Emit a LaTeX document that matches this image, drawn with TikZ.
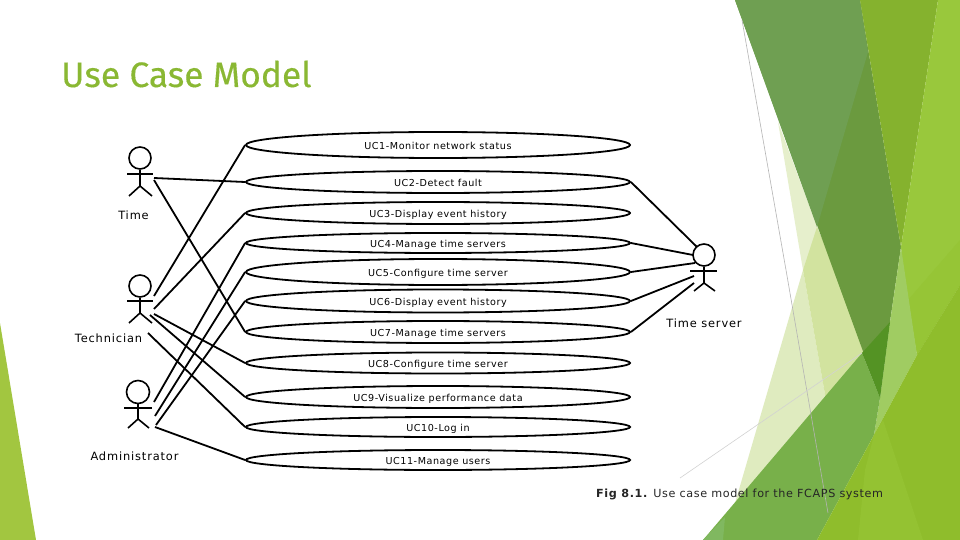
\documentclass[tikz,border=0pt]{standalone}
\usepackage{fontspec}
\setmainfont{Open Sans}
\newfontfamily\titlefont[FakeBold=0.35]{Fira Sans}
\newfontfamily\labelfont[LetterSpace=5.8]{DejaVu Sans}
\newfontfamily\actorfont[LetterSpace=7.5]{DejaVu Sans}
\newfontfamily\captionfont[LetterSpace=5.3]{DejaVu Sans}
\usetikzlibrary{shapes.geometric}
\definecolor{titlegreen}{HTML}{8AB833}
\definecolor{bgA}{HTML}{A2C640}
\definecolor{bgB}{HTML}{E6EFCC}
\definecolor{bgC}{HTML}{DFEBBF}
\definecolor{bgD}{HTML}{D2E39F}
\definecolor{bgE}{HTML}{6B9A3F}
\definecolor{bgF}{HTML}{6F9F52}
\definecolor{bgG}{HTML}{85B22E}
\definecolor{bgH}{HTML}{99C83C}
\definecolor{bgI}{HTML}{A0CC62}
\definecolor{bgJ}{HTML}{78B04A}
\definecolor{bgK}{HTML}{80B860}
\definecolor{bgL}{HTML}{549324}
\definecolor{bgM}{HTML}{8FBD2C}
\definecolor{bgN}{HTML}{94C232}
\definecolor{bgO}{HTML}{96C536}
\definecolor{lineA}{HTML}{B4B4B4}
\definecolor{lineB}{HTML}{D2D2D2}
\newcommand\uctext[1]{\raisebox{0pt}[9pt][0pt]{#1}}
\tikzset{
  uc/.style={draw=black,ellipse,line width=1.8pt,minimum width=384pt,inner sep=0pt,font=\labelfont\fontsize{9.6}{11}\selectfont},
  lnk/.style={draw=black,line width=1.8pt},
  stick/.style={draw=black,line width=1.6pt},
  actorlabel/.style={font=\actorfont\fontsize{11.4}{13}\selectfont,inner sep=0pt},
  thin grey/.style={line width=0.6pt}
}
\begin{document}
\begin{tikzpicture}[x=1pt,y=-1pt]
\useasboundingbox (0,0) rectangle (960,540);
\fill[white] (0,0) rectangle (960,540);
% background facets
\fill[bgA] (0,323) -- (36,540) -- (0,540) -- cycle;
\fill[bgB] (778,122) -- (822,240) -- (803,270) -- cycle;
\fill[bgC] (803,270) -- (826,400) -- (733,510) -- cycle;
\fill[bgD] (803,270) -- (817,227) -- (870,350) -- (826,400) -- cycle;
\fill[bgE] (735,0) -- (860,0) -- (901,247) -- (890,322) -- (880,398) -- cycle;
\fill[bgF] (735,0) -- (860,0) -- (868,52) -- (817,227) -- cycle;
\fill[bgG] (860,0) -- (938,0) -- (901,247) -- cycle;
\fill[bgH] (938,0) -- (960,0) -- (960,285) -- (917,355) -- (903,270) -- (901,247) -- cycle;
\fill[bgO] (960,240) -- (960,285) -- (917,355) -- (908,300) -- cycle;
\fill[bgI] (901,247) -- (917,355) -- (874,435) -- (880,398) -- (890,322) -- cycle;
\fill[bgJ] (703,540) -- (862,353) -- (880,398) -- (874,435) -- (817,540) -- cycle;
\fill[bgK] (703,540) -- (725,517) -- (723,540) -- cycle;
\fill[bgL] (862,353) -- (890,322) -- (880,398) -- cycle;
\fill[bgM] (817,540) -- (874,435) -- (917,355) -- (960,285) -- (960,540) -- cycle;
\fill[bgN] (858,540) -- (865,470) -- (874,435) -- (883,420) -- (923,540) -- cycle;
\draw[thin grey,color=lineA] (742,20) -- (786,270) -- (828,513);
\draw[thin grey,color=lineB] (680,478) -- (862,353);
% title
\node[anchor=base west,inner sep=0pt,text=titlegreen,font=\titlefont\fontsize{35.3}{40}\selectfont] (title) at (61,87) {Use Case Model};
% use cases
\node[uc,minimum height=26pt] (uc1) at (438,145) {\uctext{UC1-Monitor network status}};
\node[uc,minimum height=22pt] (uc2) at (438,182) {\uctext{UC2-Detect fault}};
\node[uc,minimum height=22pt] (uc3) at (438,213) {\uctext{UC3-Display event history}};
\node[uc,minimum height=20pt] (uc4) at (438,243) {\uctext{UC4-Manage time servers}};
\node[uc,minimum height=26pt] (uc5) at (438,272) {\uctext{UC5-Configure time server}};
\node[uc,minimum height=23pt] (uc6) at (438,301) {\uctext{UC6-Display event history}};
\node[uc,minimum height=22pt] (uc7) at (438,332) {\uctext{UC7-Manage time servers}};
\node[uc,minimum height=21pt] (uc8) at (438,363) {\uctext{UC8-Configure time server}};
\node[uc,minimum height=22pt] (uc9) at (438,397) {\uctext{UC9-Visualize performance data}};
\node[uc,minimum height=20pt] (uc10) at (438,427) {\uctext{UC10-Log in}};
\node[uc,minimum height=20pt] (uc11) at (438,460) {\uctext{UC11-Manage users}};
% actors
\node[stick,circle,minimum size=22pt,inner sep=0pt] (timehead) at (140,158) {};
\draw[stick] (timehead.south) -- (140,186) coordinate (timehip);
\draw[stick] (127,174) -- (153,174);
\draw[stick] (129,196) -- (timehip) -- (152,196);
\node[stick,circle,minimum size=22pt,inner sep=0pt] (techhead) at (140,286) {};
\draw[stick] (techhead.south) -- (140,313) coordinate (techhip);
\draw[stick] (127,301) -- (153,301);
\draw[stick] (129,323) -- (techhip) -- (152,323);
\node[stick,circle,minimum size=23pt,inner sep=0pt] (adminhead) at (138,392) {};
\draw[stick] (adminhead.south) -- (138,419) coordinate (adminhip);
\draw[stick] (124,408) -- (152,408);
\draw[stick] (128,428) -- (adminhip) -- (149,428);
\node[stick,circle,minimum size=22pt,inner sep=0pt] (serverhead) at (704,255) {};
\draw[stick] (serverhead.south) -- (704,283) coordinate (serverhip);
\draw[stick] (690,271) -- (717,271);
\draw[stick] (694,291) -- (serverhip) -- (715,291);
\node[actorlabel] (timelabel) at (133.5,215) {Time};
\node[actorlabel] (techlabel) at (108.5,338) {Technician};
\node[actorlabel] (adminlabel) at (134.5,456) {Administrator};
\node[actorlabel] (serverlabel) at (704,323) {Time server};
% free ends of connectors
\coordinate (t1) at (154,178);
\coordinate (t2) at (154,180);
\coordinate (c1) at (154,296);
\coordinate (c2) at (154,309);
\coordinate (c3) at (154,314);
\coordinate (c4) at (150,315);
\coordinate (c5) at (148,333);
\coordinate (a1) at (154,402);
\coordinate (a2) at (155,416);
\coordinate (a3) at (156,425);
\coordinate (a4) at (155,427);
\coordinate (s1) at (697,247);
\coordinate (s2) at (693,255);
\coordinate (s3) at (695,263);
\coordinate (s4) at (694,276);
\coordinate (s5) at (694,283);
% connectors
\draw[lnk] (t1) -- (uc2.west);
\draw[lnk] (t2) -- (uc7.west);
\draw[lnk] (c1) -- (uc1.west);
\draw[lnk] (c2) -- (uc3.west);
\draw[lnk] (c3) -- (uc8.west);
\draw[lnk] (c4) -- (uc9.west);
\draw[lnk] (c5) -- (uc10.west);
\draw[lnk] (a1) -- (uc4.west);
\draw[lnk] (a2) -- (uc5.west);
\draw[lnk] (a3) -- (uc6.west);
\draw[lnk] (a4) -- (uc11.west);
\draw[lnk] (uc2.east) -- (s1);
\draw[lnk] (uc4.east) -- (s2);
\draw[lnk] (uc5.east) -- (s3);
\draw[lnk] (uc6.east) -- (s4);
\draw[lnk] (uc7.east) -- (s5);
% caption
\node[anchor=base west,inner sep=0pt,font=\captionfont\fontsize{11.2}{13}\selectfont,text=black!85] (caption) at (596,497) {\textbf{Fig 8.1.} Use case model for the FCAPS system};
\end{tikzpicture}
\end{document}
